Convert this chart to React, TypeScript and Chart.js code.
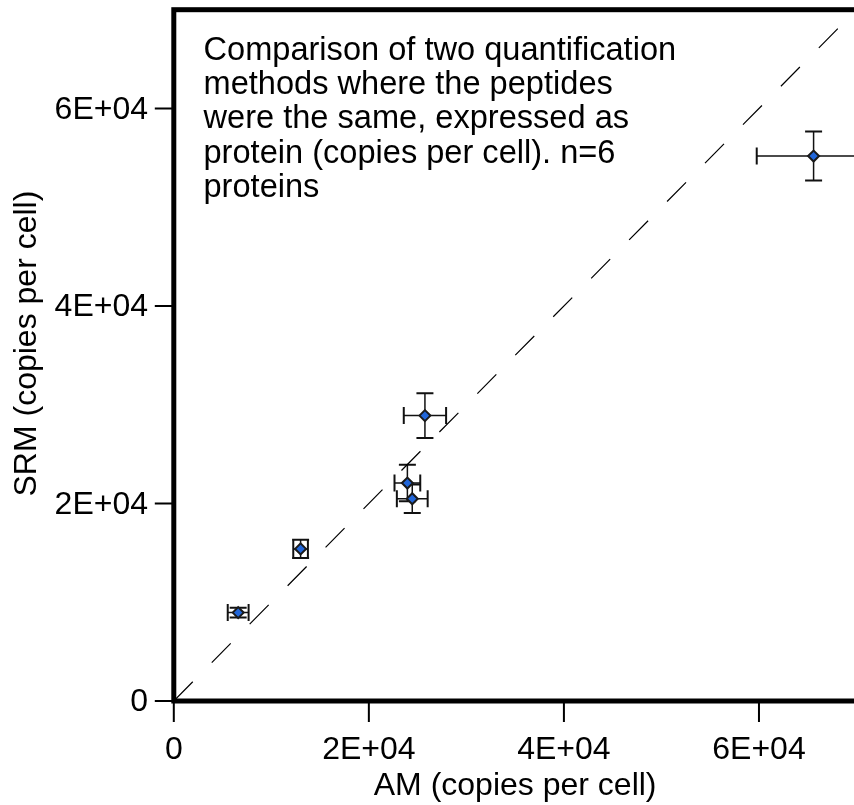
import React, { useEffect, useRef } from "react";
import { Chart, registerables } from "chart.js";

Chart.register(...registerables);

// ---- data ----
const amValues = [6600, 13000, 25750, 23950, 24450, 65600];
const srmValues = [8950, 15400, 28900, 22070, 20480, 55180];
const amErrors = [1070, 750, 2170, 1320, 1580, 5830];
const srmErrors = [500, 920, 2260, 1850, 1450, 2480];

const axisMin = 0;
const axisMax = 70000;
const xTickValues = [0, 20000, 40000, 60000];
const xTickLabels = ["0", "2E+04", "4E+04", "6E+04"];
const yTickValues = [0, 20000, 40000, 60000];
const yTickLabels = ["0", "2E+04", "4E+04", "6E+04"];
const identityLine = [
  { x: 0, y: 0 },
  { x: 70000, y: 70000 },
];

const xTitle = "AM (copies per cell)";
const yTitle = "SRM (copies per cell)";
const noteLines = [
  "Comparison of two quantification",
  "methods where the peptides",
  "were the same, expressed as",
  "protein (copies per cell). n=6",
  "proteins",
];

const FONT = '"Liberation Sans", Arial, Helvetica, sans-serif';

const decorPlugin = {
  id: "decor",
  beforeDatasetsDraw(chart: any) {
    const ctx = chart.ctx;
    const xs = chart.scales.x;
    const ys = chart.scales.y;
    const ca = chart.chartArea;
    ctx.save();
    ctx.beginPath();
    ctx.rect(ca.left, ca.top, ca.right - ca.left, ca.bottom - ca.top);
    ctx.clip();
    ctx.strokeStyle = "#111";
    const cap = 8.5;
    for (let i = 0; i < amValues.length; i++) {
      const px = xs.getPixelForValue(amValues[i]);
      const py = ys.getPixelForValue(srmValues[i]);
      const xl = xs.getPixelForValue(amValues[i] - amErrors[i]);
      const xr = xs.getPixelForValue(amValues[i] + amErrors[i]);
      const yt = ys.getPixelForValue(srmValues[i] + srmErrors[i]);
      const yb = ys.getPixelForValue(srmValues[i] - srmErrors[i]);
      ctx.lineWidth = 1.5;
      ctx.beginPath();
      ctx.moveTo(xl, py);
      ctx.lineTo(xr, py);
      ctx.moveTo(px, yt);
      ctx.lineTo(px, yb);
      ctx.stroke();
      ctx.lineWidth = 2;
      ctx.beginPath();
      ctx.moveTo(xl, py - cap);
      ctx.lineTo(xl, py + cap);
      ctx.moveTo(xr, py - cap);
      ctx.lineTo(xr, py + cap);
      ctx.moveTo(px - cap, yt);
      ctx.lineTo(px + cap, yt);
      ctx.moveTo(px - cap, yb);
      ctx.lineTo(px + cap, yb);
      ctx.stroke();
    }
    ctx.restore();
  },
  afterDatasetsDraw(chart: any) {
    const ctx = chart.ctx;
    const xs = chart.scales.x;
    const ys = chart.scales.y;
    const ca = chart.chartArea;
    ctx.save();
    // frame
    ctx.strokeStyle = "#000";
    ctx.lineWidth = 5;
    ctx.strokeRect(ca.left, ca.top, ca.right - ca.left, ca.bottom - ca.top);
    // ticks
    ctx.lineWidth = 2;
    ctx.beginPath();
    xTickValues.forEach((v) => {
      const x = xs.getPixelForValue(v);
      ctx.moveTo(x, ca.bottom);
      ctx.lineTo(x, ca.bottom + 21);
    });
    yTickValues.forEach((v) => {
      const y = ys.getPixelForValue(v);
      ctx.moveTo(ca.left, y);
      ctx.lineTo(ca.left - 19, y);
    });
    ctx.stroke();
    // tick labels
    ctx.fillStyle = "#000";
    ctx.font = `32px ${FONT}`;
    ctx.textAlign = "center";
    ctx.textBaseline = "alphabetic";
    xTickValues.forEach((v, i) => {
      ctx.fillText(xTickLabels[i], xs.getPixelForValue(v), 758.5);
    });
    ctx.textAlign = "right";
    ctx.textBaseline = "middle";
    yTickValues.forEach((v, i) => {
      ctx.fillText(yTickLabels[i], 148, ys.getPixelForValue(v) + 1.5);
    });
    // axis titles
    ctx.textAlign = "center";
    ctx.textBaseline = "alphabetic";
    ctx.fillText(xTitle, (ca.left + ca.right) / 2, 795);
    ctx.save();
    ctx.translate(35.7, 496.5);
    ctx.rotate(-Math.PI / 2);
    ctx.textAlign = "left";
    ctx.fillText(yTitle, 0, 0);
    ctx.restore();
    // note
    ctx.font = `32.6px ${FONT}`;
    ctx.textAlign = "left";
    noteLines.forEach((line, i) => {
      ctx.fillText(line, 203.5, 60 + i * 34.2);
    });
    ctx.restore();
  },
};

export default function App() {
  const ref = useRef<HTMLCanvasElement | null>(null);
  useEffect(() => {
    if (!ref.current) return;
    const chart = new Chart(ref.current, {
      type: "scatter",
      data: {
        datasets: [
          {
            type: "line",
            data: identityLine,
            borderColor: "#000",
            borderWidth: 1.2,
            borderDash: [27, 27],
            pointRadius: 0,
            fill: false,
          } as any,
          {
            type: "scatter",
            data: amValues.map((x, i) => ({ x, y: srmValues[i] })),
            pointStyle: "rectRot",
            pointRadius: 5.5,
            backgroundColor: "#2166d9",
            borderColor: "#1a1a1a",
            borderWidth: 2,
          },
        ],
      },
      options: {
        responsive: false,
        animation: false,
        devicePixelRatio: 1,
        layout: { padding: { left: 173.8, top: 9.7, right: 0, bottom: 104 } },
        plugins: { legend: { display: false }, tooltip: { enabled: false } },
        scales: {
          x: { type: "linear", min: axisMin, max: axisMax, display: false },
          y: { type: "linear", min: axisMin, max: axisMax, display: false },
        },
      },
      plugins: [decorPlugin],
    });
    return () => chart.destroy();
  }, []);
  return (
    <div
      style={{
        position: "absolute",
        left: 0,
        top: 0,
        width: 854,
        height: 805,
        overflow: "hidden",
        background: "#fff",
      }}
    >
      <canvas ref={ref} width={864} height={805} style={{ display: "block" }} />
    </div>
  );
}
